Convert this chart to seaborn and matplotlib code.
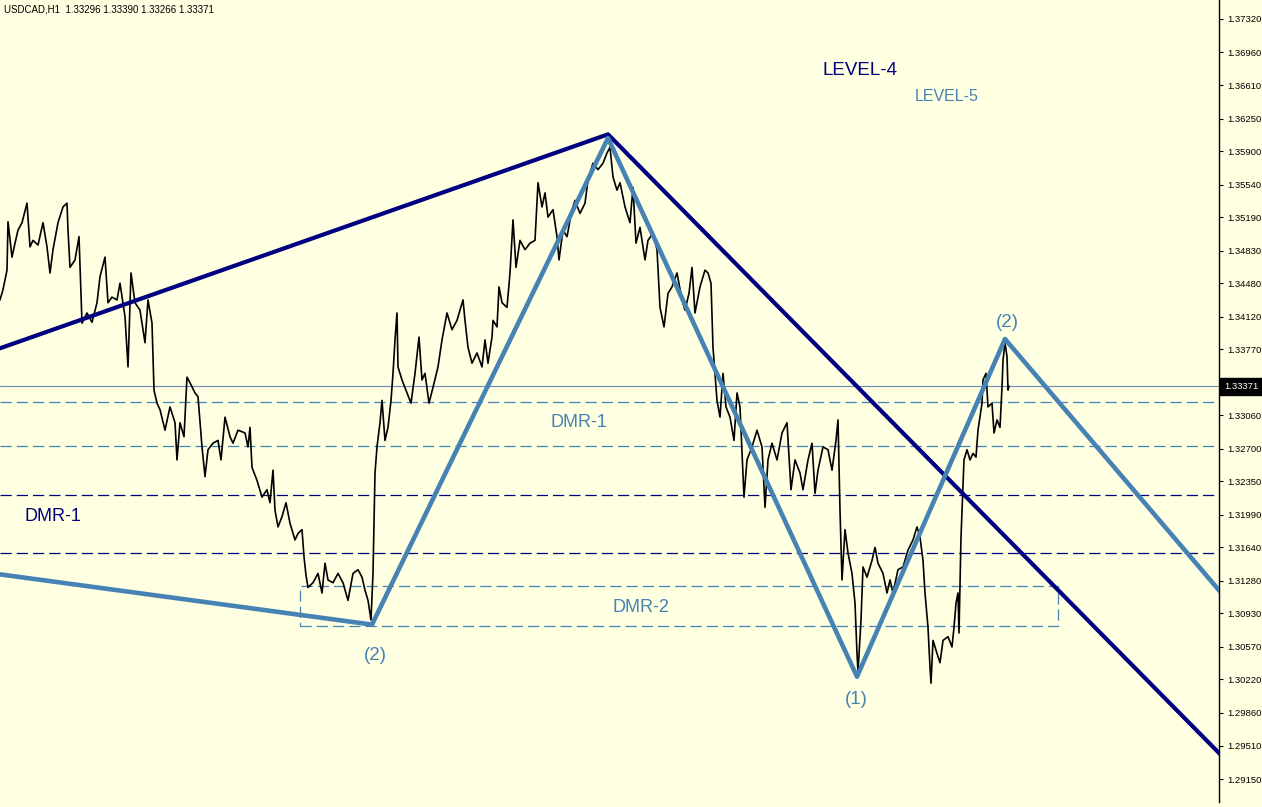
import numpy as np
import pandas as pd
import matplotlib
matplotlib.use("Agg")
import matplotlib.pyplot as plt
import matplotlib.patches as mpatches
import matplotlib.transforms as mtransforms
import seaborn as sns

# ---- USDCAD H1 closes (hour index, close) ----
bars = [0, 3, 7, 8, 12, 15, 18, 22, 27, 30, 33, 38, 43, 47, 50, 53, 58, 63, 67, 68,
        70, 75, 79, 82, 87, 92, 97, 100, 105, 108, 112, 117, 120, 125, 128, 131, 135, 140,
        145, 148, 152, 154, 157, 160, 165, 170, 175, 177, 180, 184, 187, 190, 195, 198,
        202, 205, 208, 213, 218, 221, 225, 230, 233, 238, 245, 248, 250, 252, 257, 262,
        267, 270, 273, 275, 278, 282, 286, 290, 295, 298, 302, 304, 306, 308, 313, 318,
        322, 325, 328, 333, 338, 343, 348, 353, 358, 362, 365, 368, 371, 373, 374, 375,
        377, 380, 382, 385, 388, 391, 393, 395, 397, 398, 402, 407, 411, 415, 419, 422,
        425, 429, 433, 438, 442, 447, 452, 457, 463, 465, 468, 472, 477, 482, 485, 488,
        492, 493, 497, 499, 502, 507, 510, 513, 516, 520, 525, 530, 535, 538, 542, 545,
        548, 553, 557, 559, 563, 567, 572, 575, 580, 585, 588, 593, 598, 603, 607, 610,
        613, 617, 620, 625, 630, 633, 636, 640, 645, 648, 653, 657, 660, 664, 668, 672,
        677, 682, 685, 689, 692, 695, 700, 705, 708, 711, 713, 717, 720, 723, 726, 730,
        734, 737, 740, 743, 744, 747, 752, 757, 762, 765, 768, 772, 777, 782, 787, 791,
        795, 800, 803, 808, 812, 815, 818, 823, 828, 832, 836, 838, 840, 842, 845, 848,
        852, 855, 857, 858, 861, 863, 867, 872, 875, 878, 883, 887, 890, 893, 898, 903,
        908, 913, 917, 920, 923, 925, 928, 930, 931, 933, 937, 940, 943, 948, 952, 954,
        956, 958, 959, 961, 963, 964, 967, 970, 973, 976, 978, 982, 983, 986, 988, 992,
        994, 997, 1000, 1002, 1003, 1005, 1007, 1008, 1009]
closes = [1.3430, 1.3441, 1.3462, 1.3514, 1.3476, 1.3491, 1.3505, 1.3513, 1.3534, 1.3487,
          1.3494, 1.3489, 1.3513, 1.3487, 1.3459, 1.3484, 1.3513, 1.3530, 1.3534, 1.3505,
          1.3465, 1.3473, 1.3498, 1.3405, 1.3416, 1.3406, 1.3427, 1.3455, 1.3476, 1.3427,
          1.3433, 1.3430, 1.3448, 1.3412, 1.3358, 1.3459, 1.3427, 1.3419, 1.3384, 1.3430,
          1.3405, 1.3333, 1.3319, 1.3312, 1.3290, 1.3315, 1.3298, 1.3258, 1.3298, 1.3283,
          1.3347, 1.3341, 1.3330, 1.3326, 1.3272, 1.3240, 1.3269, 1.3276, 1.3279, 1.3258,
          1.3304, 1.3283, 1.3276, 1.3290, 1.3287, 1.3272, 1.3293, 1.3250, 1.3236, 1.3218,
          1.3226, 1.3212, 1.3247, 1.3204, 1.3186, 1.3197, 1.3212, 1.3190, 1.3172, 1.3179,
          1.3183, 1.3154, 1.3134, 1.3121, 1.3126, 1.3136, 1.3115, 1.3147, 1.3129, 1.3126,
          1.3136, 1.3126, 1.3107, 1.3136, 1.3140, 1.3132, 1.3118, 1.3107, 1.3086, 1.3136,
          1.3190, 1.3244, 1.3272, 1.3298, 1.3322, 1.3279, 1.3293, 1.3322, 1.3351, 1.3387,
          1.3416, 1.3358, 1.3344, 1.3330, 1.3319, 1.3351, 1.3390, 1.3344, 1.3351, 1.3319,
          1.3336, 1.3358, 1.3387, 1.3416, 1.3398, 1.3408, 1.3430, 1.3408, 1.3379, 1.3362,
          1.3373, 1.3358, 1.3387, 1.3362, 1.3390, 1.3408, 1.3401, 1.3444, 1.3427, 1.3422,
          1.3459, 1.3516, 1.3465, 1.3494, 1.3484, 1.3491, 1.3494, 1.3556, 1.3530, 1.3545,
          1.3519, 1.3527, 1.3498, 1.3473, 1.3505, 1.3498, 1.3527, 1.3537, 1.3523, 1.3534,
          1.3559, 1.3577, 1.3570, 1.3577, 1.3588, 1.3594, 1.3562, 1.3548, 1.3556, 1.3530,
          1.3513, 1.3551, 1.3491, 1.3508, 1.3473, 1.3494, 1.3502, 1.3484, 1.3422, 1.3401,
          1.3437, 1.3444, 1.3459, 1.3430, 1.3419, 1.3437, 1.3465, 1.3416, 1.3444, 1.3462,
          1.3459, 1.3448, 1.3379, 1.3322, 1.3304, 1.3351, 1.3315, 1.3304, 1.3279, 1.3330,
          1.3315, 1.3244, 1.3218, 1.3258, 1.3272, 1.3290, 1.3272, 1.3207, 1.3258, 1.3276,
          1.3258, 1.3287, 1.3298, 1.3226, 1.3258, 1.3244, 1.3226, 1.3258, 1.3276, 1.3222,
          1.3247, 1.3272, 1.3269, 1.3247, 1.3279, 1.3301, 1.3204, 1.3129, 1.3183, 1.3158,
          1.3136, 1.3104, 1.3050, 1.3030, 1.3086, 1.3143, 1.3132, 1.3150, 1.3164, 1.3147,
          1.3136, 1.3115, 1.3129, 1.3115, 1.3140, 1.3143, 1.3161, 1.3172, 1.3186, 1.3175,
          1.3150, 1.3115, 1.3078, 1.3035, 1.3018, 1.3064, 1.3050, 1.3040, 1.3064, 1.3068,
          1.3057, 1.3078, 1.3104, 1.3115, 1.3072, 1.3175, 1.3229, 1.3258, 1.3269, 1.3258,
          1.3265, 1.3261, 1.3290, 1.3319, 1.3344, 1.3351, 1.3315, 1.3319, 1.3287, 1.3301,
          1.3293, 1.3336, 1.3365, 1.3384, 1.3369, 1.3333, 1.33371]

# ---- trend lines (hour index, price) ----
level4_bars = [0, 608, 1230]
level4_prices = [1.3378, 1.3608, 1.2931]
level5_bars = [0, 372, 608, 857, 1005, 1230]
level5_prices = [1.3135, 1.3081, 1.3604, 1.3025, 1.3388, 1.3104]

# ---- horizontal levels ----
bid_price = 1.33371
dmr1_light = [1.3320, 1.3273]
dmr1_navy = [1.3220, 1.3158]
dmr2_top, dmr2_bottom = 1.3122, 1.3079
dmr2_start, dmr2_end = 300, 1058

# ---- price scale ----
price_ticks = [1.37320, 1.36960, 1.36610, 1.36250, 1.35900, 1.35540, 1.35190, 1.34830,
               1.34480, 1.34120, 1.33770, 1.33410, 1.33060, 1.32700, 1.32350, 1.31990,
               1.31640, 1.31280, 1.30930, 1.30570, 1.30220, 1.29860, 1.29510, 1.29150]

header = "USDCAD,H1  1.33296 1.33390 1.33266 1.33371"

BG = "#FFFFE2"
NAVY = "#000080"
STEEL = "#4682B4"

sns.set_style("white", {"axes.facecolor": BG, "figure.facecolor": BG})
plt.rcParams["font.family"] = ["Liberation Sans", "DejaVu Sans"]

fig = plt.figure(figsize=(12.62, 8.07), dpi=100, facecolor=BG)
ax = fig.add_axes([0.0, 5 / 807, 1219 / 1262, 802 / 807])
ax.set_facecolor(BG)

price_df = pd.DataFrame({"bar": bars, "close": closes})
sns.lineplot(data=price_df, x="bar", y="close", ax=ax, color="black", lw=1.2,
             sort=False, estimator=None, zorder=3)

lvl4 = pd.DataFrame({"bar": level4_bars, "price": level4_prices})
sns.lineplot(data=lvl4, x="bar", y="price", ax=ax, color=NAVY, lw=3.0,
             sort=False, estimator=None, zorder=4)
lvl5 = pd.DataFrame({"bar": level5_bars, "price": level5_prices})
sns.lineplot(data=lvl5, x="bar", y="price", ax=ax, color=STEEL, lw=3.3,
             sort=False, estimator=None, zorder=4)

dash = (0, (9, 4))
ax.axhline(bid_price, color="#6B8BAE", lw=0.8, zorder=2)
for p in dmr1_light:
    ax.axhline(p, color=STEEL, lw=0.9, ls=dash, zorder=2)
for p in dmr1_navy:
    ax.axhline(p, color=NAVY, lw=0.9, ls=dash, zorder=2)
ax.add_patch(mpatches.Rectangle((dmr2_start, dmr2_bottom), dmr2_end - dmr2_start,
                                dmr2_top - dmr2_bottom, fill=False, edgecolor=STEEL,
                                lw=0.9, ls=dash, zorder=2))

ax.set_xlim(0, 1219)
ax.set_ylim(1.28903, 1.37524)
ax.set_xlabel("")
ax.set_ylabel("")
ax.set_xticks([])
ax.yaxis.tick_right()
ax.set_yticks(price_ticks)
ax.set_yticklabels([f"{t:.5f}" for t in price_ticks])
ax.tick_params(axis="y", direction="out", length=3, width=0.8, pad=3,
               labelsize=6.8, colors="black", right=True, left=False)
for side in ("top", "left", "bottom"):
    ax.spines[side].set_visible(False)
ax.spines["right"].set_color("black")
ax.spines["right"].set_linewidth(1.0)

# labels
ax.text(860, 1.36761, "LEVEL-4", color=NAVY, fontsize=13.5, ha="center", va="center")
ax.text(947, 1.36492, "LEVEL-5", color=STEEL, fontsize=11.5, ha="center", va="center")
ax.text(53, 1.31977, "DMR-1", color=NAVY, fontsize=13, ha="center", va="center")
ax.text(579, 1.32980, "DMR-1", color=STEEL, fontsize=13, ha="center", va="center")
ax.text(641, 1.30999, "DMR-2", color=STEEL, fontsize=13, ha="center", va="center")
ax.text(375, 1.30483, "(2)", color=STEEL, fontsize=13.5, ha="center", va="center")
ax.text(856, 1.30010, "(1)", color=STEEL, fontsize=13.5, ha="center", va="center")
ax.text(1007, 1.34062, "(2)", color=STEEL, fontsize=13.5, ha="center", va="center")

# header line
ax.text(4 / 1219, 1 - 4 / 802, header, transform=ax.transAxes, fontsize=7,
        ha="left", va="top", color="black")

# current price tag on the scale
trans = mtransforms.blended_transform_factory(ax.transAxes, ax.transData)
ax.text(1.0 + 5 / 1219, bid_price, "1.33371", transform=trans, color="white",
        fontsize=6.8, ha="left", va="center", clip_on=False,
        zorder=10, bbox=dict(boxstyle="square,pad=0.45", fc="black", ec="black"))

fig.savefig("out.png", dpi=100, facecolor=BG)
